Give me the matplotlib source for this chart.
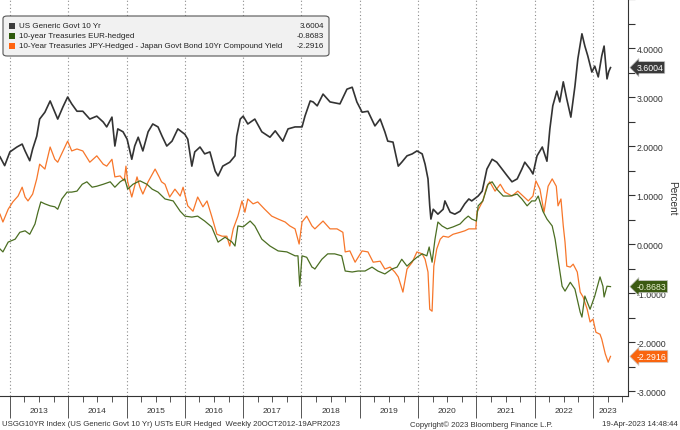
import numpy as np
import matplotlib
matplotlib.use("Agg")
import matplotlib.pyplot as plt
from matplotlib.patches import FancyBboxPatch, Rectangle
import matplotlib.transforms as mtransforms

plt.rcParams['font.family'] = ['Liberation Sans', 'DejaVu Sans']

# ---- data (decimal years, percent) ----
us_t = [2012.83, 2012.91, 2013.00, 2013.12, 2013.21, 2013.26, 2013.34, 2013.39, 2013.46, 2013.51,
        2013.60, 2013.69, 2013.77, 2013.82, 2013.91, 2013.99, 2014.06, 2014.15, 2014.25, 2014.37,
        2014.49, 2014.60, 2014.66, 2014.75, 2014.80, 2014.85, 2014.94, 2015.01, 2015.09, 2015.14,
        2015.20, 2015.28, 2015.37, 2015.45, 2015.54, 2015.61, 2015.69, 2015.78, 2015.88, 2016.00,
        2016.05, 2016.12, 2016.17, 2016.26, 2016.34, 2016.43, 2016.52, 2016.57, 2016.65, 2016.77,
        2016.86, 2016.89, 2016.95, 2017.00, 2017.08, 2017.20, 2017.32, 2017.46, 2017.55, 2017.68,
        2017.77, 2017.89, 2018.01, 2018.06, 2018.15, 2018.20, 2018.27, 2018.37, 2018.49, 2018.66,
        2018.78, 2018.87, 2018.95, 2019.04, 2019.14, 2019.26, 2019.35, 2019.43, 2019.48, 2019.57,
        2019.66, 2019.72, 2019.81, 2019.90, 2019.98, 2020.07, 2020.12, 2020.17, 2020.20, 2020.22,
        2020.26, 2020.34, 2020.43, 2020.46, 2020.55, 2020.63, 2020.72, 2020.80, 2020.87, 2020.92,
        2021.03, 2021.10, 2021.18, 2021.27, 2021.35, 2021.44, 2021.53, 2021.61, 2021.70, 2021.78,
        2021.83, 2021.92, 2021.97, 2022.04, 2022.13, 2022.21, 2022.26, 2022.31, 2022.38, 2022.43,
        2022.49, 2022.55, 2022.62, 2022.69, 2022.74, 2022.81, 2022.86, 2022.91, 2022.98, 2023.03,
        2023.09, 2023.15, 2023.19, 2023.24, 2023.27, 2023.30]
us_v = [1.78, 1.60, 1.88, 1.98, 2.04, 1.90, 1.70, 1.94, 2.20, 2.55,
        2.69, 2.92, 2.69, 2.55, 2.80, 3.00, 2.86, 2.71, 2.71, 2.55,
        2.61, 2.49, 2.39, 2.59, 2.00, 2.35, 2.29, 2.14, 1.73, 2.00,
        2.18, 1.90, 2.29, 2.45, 2.39, 2.20, 2.00, 2.10, 2.35, 2.24,
        2.14, 1.59, 1.88, 1.98, 1.84, 1.88, 1.49, 1.39, 1.59, 1.67,
        1.80, 2.20, 2.55, 2.61, 2.45, 2.55, 2.29, 2.18, 2.31, 2.10,
        2.35, 2.39, 2.39, 2.61, 2.92, 2.90, 2.82, 3.06, 2.90, 2.86,
        3.16, 3.20, 2.90, 2.69, 2.71, 2.41, 2.55, 2.29, 2.10, 2.08,
        1.59, 1.67, 1.80, 1.84, 1.90, 1.84, 1.63, 1.33, 0.78, 0.51,
        0.71, 0.61, 0.71, 0.88, 0.65, 0.61, 0.67, 0.82, 0.92, 0.88,
        0.98, 1.08, 1.53, 1.73, 1.67, 1.53, 1.39, 1.27, 1.33, 1.53,
        1.67, 1.53, 1.43, 1.80, 1.98, 1.69, 2.35, 2.82, 3.12, 2.90,
        3.31, 2.96, 2.59, 3.22, 3.78, 4.29, 4.04, 3.84, 3.51, 3.63,
        3.41, 3.84, 4.04, 3.37, 3.52, 3.6004]

eur_t = [2012.83, 2012.88, 2012.97, 2013.09, 2013.17, 2013.26, 2013.34, 2013.43, 2013.48, 2013.53,
         2013.60, 2013.69, 2013.77, 2013.82, 2013.89, 2013.98, 2014.06, 2014.15, 2014.24, 2014.32,
         2014.41, 2014.49, 2014.60, 2014.72, 2014.80, 2014.89, 2014.97, 2015.02, 2015.11, 2015.23,
         2015.35, 2015.44, 2015.54, 2015.66, 2015.80, 2015.92, 2016.00, 2016.12, 2016.22, 2016.34,
         2016.46, 2016.57, 2016.69, 2016.81, 2016.86, 2016.91, 2017.00, 2017.12, 2017.20, 2017.32,
         2017.46, 2017.60, 2017.75, 2017.89, 2017.94, 2017.97, 2018.01, 2018.09, 2018.18, 2018.21,
         2018.23, 2018.35, 2018.45, 2018.57, 2018.69, 2018.75, 2018.87, 2018.97, 2019.09, 2019.21,
         2019.31, 2019.43, 2019.55, 2019.64, 2019.72, 2019.81, 2019.90, 2019.98, 2020.07, 2020.15,
         2020.19, 2020.24, 2020.29, 2020.34, 2020.41, 2020.50, 2020.60, 2020.72, 2020.80, 2020.86,
         2020.92, 2021.00, 2021.03, 2021.11, 2021.20, 2021.27, 2021.35, 2021.46, 2021.58, 2021.70,
         2021.78, 2021.87, 2021.95, 2022.01, 2022.06, 2022.14, 2022.21, 2022.30, 2022.35, 2022.40,
         2022.47, 2022.52, 2022.61, 2022.69, 2022.78, 2022.81, 2022.86, 2022.95, 2023.03, 2023.12,
         2023.17, 2023.19, 2023.24, 2023.30]
eur_v = [-0.10, -0.16, 0.04, 0.10, 0.24, 0.27, 0.20, 0.41, 0.65, 0.86,
         0.82, 0.78, 0.76, 0.71, 0.92, 1.06, 1.06, 1.08, 1.22, 1.27,
         1.16, 1.18, 1.22, 1.27, 1.16, 1.27, 1.33, 1.12, 1.22, 1.29,
         1.22, 1.12, 1.06, 0.92, 0.88, 0.67, 0.57, 0.55, 0.57, 0.47,
         0.35, 0.04, 0.14, 0.04, -0.04, 0.37, 0.35, 0.47, 0.37, 0.10,
         -0.04, -0.14, -0.16, -0.24, -0.24, -0.86, -0.24, -0.27, -0.47, -0.49,
         -0.51, -0.31, -0.20, -0.20, -0.24, -0.55, -0.57, -0.55, -0.55, -0.47,
         -0.55, -0.61, -0.51, -0.47, -0.31, -0.45, -0.35, -0.27, -0.20, -0.24,
         -0.06, -0.37, 0.10, 0.45, 0.37, 0.31, 0.35, 0.41, 0.51, 0.57,
         0.51, 0.47, 0.78, 0.88, 1.22, 1.27, 1.12, 0.98, 0.98, 1.02,
         0.92, 0.78, 0.88, 0.88, 0.98, 0.67, 0.51, 0.37, 0.10, -0.31,
         -0.86, -0.96, -0.78, -0.92, -1.39, -1.49, -1.06, -1.33, -1.06, -0.67,
         -0.86, -1.08, -0.86, -0.8683]

jpy_t = [2012.83, 2012.88, 2012.97, 2013.05, 2013.14, 2013.21, 2013.26, 2013.31, 2013.39, 2013.46,
         2013.51, 2013.60, 2013.69, 2013.77, 2013.82, 2013.91, 2013.99, 2014.06, 2014.15, 2014.25,
         2014.37, 2014.49, 2014.60, 2014.66, 2014.75, 2014.80, 2014.89, 2014.96, 2014.99, 2015.02,
         2015.09, 2015.18, 2015.23, 2015.28, 2015.37, 2015.49, 2015.56, 2015.60, 2015.66, 2015.74,
         2015.83, 2015.92, 2015.97, 2016.05, 2016.14, 2016.22, 2016.31, 2016.38, 2016.46, 2016.55,
         2016.64, 2016.72, 2016.77, 2016.83, 2016.91, 2016.98, 2017.03, 2017.08, 2017.17, 2017.25,
         2017.37, 2017.49, 2017.60, 2017.72, 2017.80, 2017.89, 2017.96, 2018.01, 2018.09, 2018.18,
         2018.23, 2018.37, 2018.49, 2018.61, 2018.71, 2018.75, 2018.83, 2018.92, 2019.04, 2019.14,
         2019.23, 2019.35, 2019.43, 2019.52, 2019.60, 2019.66, 2019.74, 2019.81, 2019.90, 2019.98,
         2020.07, 2020.12, 2020.17, 2020.20, 2020.24, 2020.27, 2020.32, 2020.38, 2020.43, 2020.52,
         2020.60, 2020.72, 2020.80, 2020.87, 2020.92, 2020.99, 2021.01, 2021.11, 2021.18, 2021.23,
         2021.32, 2021.41, 2021.49, 2021.61, 2021.71, 2021.80, 2021.89, 2021.97, 2022.02, 2022.09,
         2022.16, 2022.23, 2022.30, 2022.37, 2022.40, 2022.45, 2022.49, 2022.52, 2022.55, 2022.61,
         2022.66, 2022.73, 2022.78, 2022.83, 2022.90, 2022.95, 2023.00, 2023.05, 2023.12, 2023.15,
         2023.21, 2023.26, 2023.30]
jpy_v = [0.61, 0.45, 0.71, 0.86, 0.98, 1.16, 0.96, 0.88, 1.02, 1.33,
         1.63, 1.53, 1.98, 1.73, 1.67, 1.90, 2.10, 1.90, 1.94, 1.90,
         1.67, 1.80, 1.63, 1.59, 1.73, 1.37, 1.39, 1.29, 1.59, 1.27,
         0.96, 1.37, 1.16, 1.02, 1.27, 1.53, 1.37, 1.27, 1.22, 0.96,
         1.12, 0.98, 1.16, 0.78, 0.67, 0.96, 0.76, 0.88, 0.57, 0.20,
         0.16, 0.16, -0.04, 0.31, 0.57, 0.88, 0.65, 0.92, 0.82, 0.86,
         0.71, 0.57, 0.51, 0.45, 0.37, 0.31, 0.00, 0.45, 0.57, 0.37,
         0.31, 0.47, 0.31, 0.31, 0.24, -0.16, -0.14, -0.37, -0.14, -0.16,
         -0.37, -0.35, -0.51, -0.47, -0.57, -0.67, -0.98, -0.51, -0.37, -0.16,
         -0.20, -0.31, -0.57, -1.33, -1.37, -0.45, -0.10, 0.10, 0.16, 0.14,
         0.20, 0.24, 0.27, 0.31, 0.31, 0.31, 0.65, 0.88, 1.18, 1.27,
         1.08, 1.22, 1.06, 0.98, 1.08, 0.98, 0.88, 0.98, 1.29, 1.12,
         0.65, 1.18, 1.33, 1.18, 0.78, 0.92, 0.37, 0.04, -0.45, -0.47,
         -0.41, -0.57, -0.98, -1.08, -1.33, -1.59, -1.53, -1.80, -1.84, -1.94,
         -2.24, -2.41, -2.2916]

labels = ["US Generic Govt 10 Yr",
          "10-year Treasuries EUR-hedged",
          "10-Year Treasuries JPY-Hedged - Japan Govt Bond 10Yr Compound Yield"]
last_vals = [3.6004, -0.8683, -2.2916]
line_colors = ["#333333", "#4b6e22", "#f7762a"]
square_colors = ["#3c3c3c", "#2f5a0c", "#ff6410"]
tag_colors = ["#3a3a3a", "#3b5a12", "#f9650f"]
tag_text = ["white", "#e8f2d0", "white"]

years = list(range(2013, 2024))
year_label_pos = [y + 0.5 for y in years[:-1]] + [2023.25]

fig = plt.figure(figsize=(6.8, 4.31), dpi=100, facecolor="white")
ax = fig.add_axes([0.0, 1 - 397 / 431, 628 / 680, 397 / 431])

ax.plot(us_t, us_v, color=line_colors[0], lw=1.2, zorder=3)
ax.plot(eur_t, eur_v, color=line_colors[1], lw=0.9, zorder=4)
ax.plot(jpy_t, jpy_v, color=line_colors[2], lw=0.9, zorder=2)

ax.set_xlim(2012.83, 2023.60)
ax.set_ylim(-3.10, 5.0)

# year grid
for y in years:
    ax.axvline(y, color="#8a8a8a", lw=0.8, ls=(0, (1, 2.2)), zorder=1)

for s in ["left", "top"]:
    ax.spines[s].set_visible(False)
ax.spines["right"].set_color("#333333")
ax.spines["bottom"].set_color("#333333")

# x axis ticks
ax.set_xticks(years)
ax.set_xticklabels([])
ax.set_xticks(np.arange(2013, 2023.6, 0.25), minor=True)
ax.tick_params(axis="x", which="major", length=16, width=0.7, color="#555555", direction="out")
ax.tick_params(axis="x", which="minor", length=4, width=0.7, color="#555555", direction="out")
xtrans = mtransforms.blended_transform_factory(ax.transData, ax.transAxes)
for yp, yl in zip(year_label_pos, years):
    ax.text(yp, -0.037, str(yl), transform=xtrans, ha="center", va="center",
            fontsize=6.0, color="#333333")

# y axis on the right
ax.yaxis.tick_right()
ax.set_yticks(np.arange(-3, 5, 1))
ax.set_yticks(np.arange(-3, 5.01, 0.5), minor=True)
ax.set_yticklabels(["%.4f" % v for v in np.arange(-3, 5, 1)])
ax.tick_params(axis="y", which="both", length=5, width=0.8, color="#333333",
               labelsize=6.3, labelcolor="#333333", pad=1)

# last value tags
ytrans = mtransforms.blended_transform_factory(ax.transAxes, ax.transData)
for v, fc, tc in zip(last_vals, tag_colors, tag_text):
    ax.annotate("%.4f" % v, xy=(1.0, v), xycoords=ytrans, xytext=(6, 0),
                textcoords="offset points", ha="left", va="center", fontsize=6.3,
                color=tc, annotation_clip=False, zorder=10,
                bbox=dict(boxstyle="larrow,pad=0.18", fc=fc, ec="#cccccc", lw=0.5))


def fx(px):
    return px / 680


def fy(py):
    return 1 - py / 431


fig.text(fx(672), fy(198), "Percent", rotation=270, fontsize=7.2, color="#333333",
         ha="center", va="center")

# legend box
box = FancyBboxPatch((fx(3), fy(57)), fx(326), 40 / 431, transform=fig.transFigure,
                     boxstyle="round,pad=0,rounding_size=0.006", fc="#f1f1f1",
                     ec="#555555", lw=0.8, zorder=20)
fig.patches.append(box)
for i, (lab, val, sc) in enumerate(zip(labels, last_vals, square_colors)):
    row = 27 + 10 * i
    fig.patches.append(Rectangle((fx(9), fy(row + 3)), fx(6), 6 / 431,
                                 transform=fig.transFigure, fc=sc, ec="none", zorder=21))
    fig.text(fx(19), fy(row), lab, fontsize=5.8, color="#222222", va="center", ha="left", zorder=22)
    fig.text(fx(324), fy(row), "%.4f" % val, fontsize=5.8, color="#222222", va="center",
             ha="right", zorder=22)

# footer
fig.text(fx(2), fy(425), "USGG10YR Index (US Generic Govt 10 Yr) USTs EUR Hedged  Weekly 20OCT2012-19APR2023",
         fontsize=5.55, color="#333333", va="center", ha="left")
fig.text(fx(410), fy(425), "Copyright\u00a9 2023 Bloomberg Finance L.P.", fontsize=5.55,
         color="#333333", va="center", ha="left")
fig.text(fx(678), fy(425), "19-Apr-2023 14:48:44", fontsize=5.55, color="#333333",
         va="center", ha="right")

fig.savefig("out.png", dpi=100, facecolor="white")
